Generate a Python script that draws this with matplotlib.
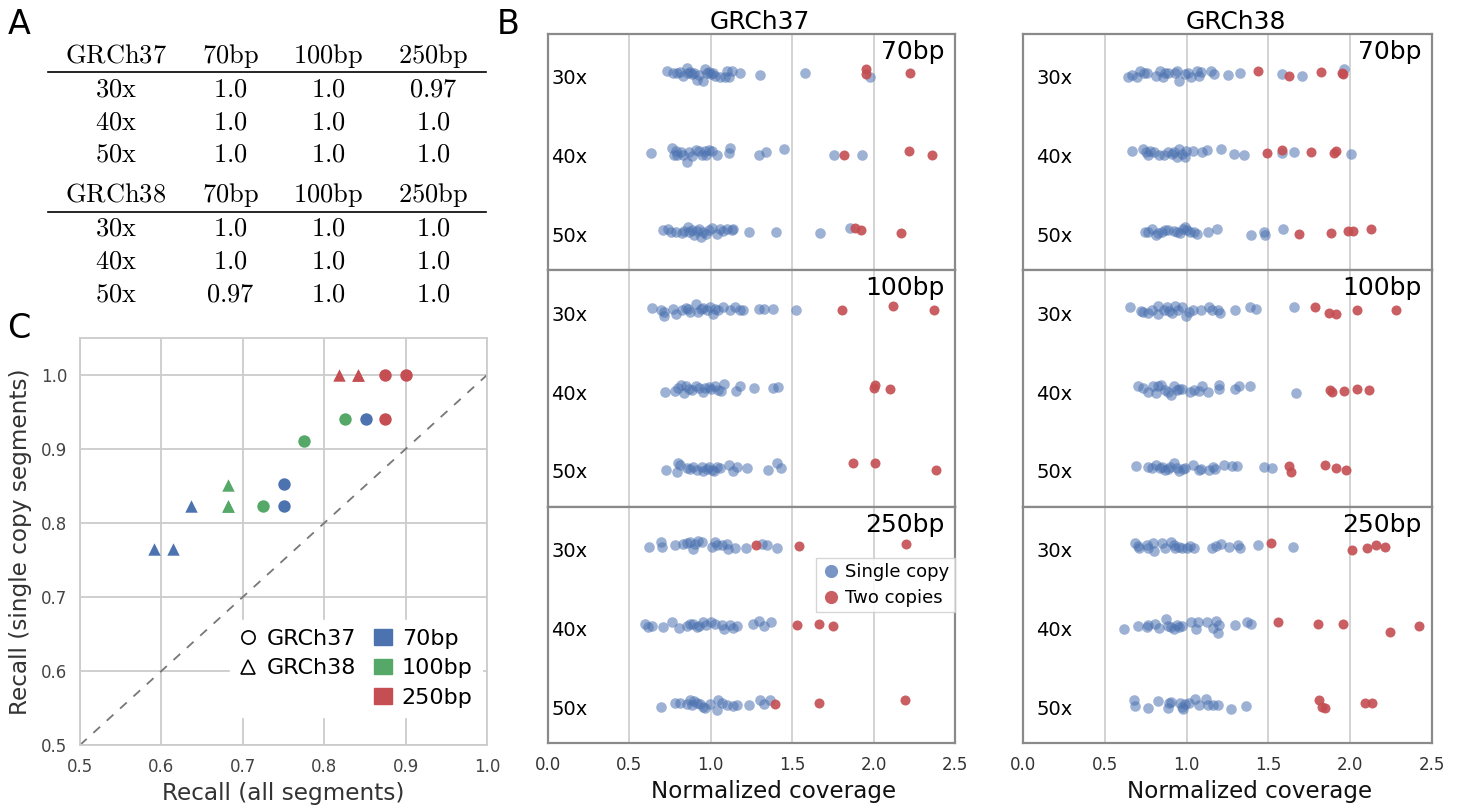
import matplotlib
matplotlib.use("Agg")
import matplotlib.pyplot as plt
from matplotlib.lines import Line2D
from matplotlib.patches import Patch

plt.rcParams["font.family"] = ["DejaVu Sans"]
plt.rcParams["mathtext.fontset"] = "cm"

BLUE = "#4C72B0"
GREEN = "#55A868"
RED = "#C44E52"

# ---------------- panel A: recall table ----------------
table_cols = ["70bp", "100bp", "250bp"]
table_rows = ["30x", "40x", "50x"]
recall_grch37 = [[1.0, 1.0, 0.97], [1.0, 1.0, 1.0], [1.0, 1.0, 1.0]]
recall_grch38 = [[1.0, 1.0, 1.0], [1.0, 1.0, 1.0], [0.97, 1.0, 1.0]]

# ---------------- panel C: recall scatter ----------------
read_lengths = ["70bp", "100bp", "250bp"]
# one list per read length (70 / 100 / 250bp), entries for 30x, 40x, 50x
recall_all_37 = [[0.851, 0.750, 0.750], [0.825, 0.775, 0.725], [0.875, 0.900, 0.875]]
recall_single_37 = [[0.941, 0.853, 0.823], [0.941, 0.911, 0.823], [1.0, 1.0, 0.941]]
recall_all_38 = [[0.636, 0.591, 0.614], [0.682, 0.682, 0.682], [0.818, 0.841, 0.841]]
recall_single_38 = [[0.823, 0.765, 0.765], [0.852, 0.823, 0.823], [1.0, 1.0, 1.0]]

# ---------------- panel B: normalized coverage strips ----------------
coverages = ["30x", "40x", "50x"]
# (normalized coverage, vertical jitter) per segment, rows 30x / 40x / 50x

b37_70_single = [
    [(0.730, -0.03), (0.766, 0.0), (0.791, -0.01), (0.811, -0.02), (0.828, 0.03), (0.852, -0.07),
     (0.863, 0.0), (0.873, -0.02), (0.883, 0.01), (0.898, 0.0), (0.914, 0.09), (0.930, 0.02),
     (0.955, 0.10), (0.965, -0.05), (0.975, 0.0), (0.986, -0.02), (1.0, 0.01), (1.016, -0.01),
     (1.027, 0.03), (1.057, 0.04), (1.088, 0.04), (1.098, -0.03), (1.109, 0.04), (1.129, -0.03),
     (1.180, 0.0), (1.303, 0.02), (1.580, 0.0), (1.975, 0.04)],
    [(0.633, 0.01), (0.760, -0.05), (0.775, 0.03), (0.785, -0.02), (0.795, 0.03), (0.816, 0.0),
     (0.832, 0.03), (0.852, 0.12), (0.867, 0.0), (0.887, 0.05), (0.908, -0.03), (0.928, -0.01),
     (0.949, 0.03), (0.963, -0.02), (0.973, 0.04), (0.990, -0.03), (1.010, -0.01), (1.037, 0.04),
     (1.109, 0.01), (1.119, -0.05), (1.299, 0.03), (1.340, 0.0), (1.451, -0.04), (1.758, 0.03),
     (1.928, 0.04)],
    [(0.705, -0.01), (0.740, -0.03), (0.754, 0.02), (0.787, 0.01), (0.822, 0.03), (0.836, 0.0),
     (0.857, -0.05), (0.869, 0.02), (0.883, -0.01), (0.898, 0.05), (0.914, 0.0), (0.930, -0.02),
     (0.939, 0.08), (0.955, 0.02), (0.969, 0.04), (0.986, -0.01), (1.006, -0.04), (1.037, 0.04),
     (1.057, -0.03), (1.074, 0.0), (1.098, -0.02), (1.129, -0.01), (1.135, -0.02), (1.232, 0.02),
     (1.402, 0.01), (1.672, 0.03), (1.857, -0.04)],
]
b37_70_two = [
    [(1.955, -0.05), (1.955, 0.01), (2.225, 0.0)],
    [(1.820, 0.04), (2.219, -0.01), (2.361, 0.03)],
    [(1.887, -0.04), (1.922, -0.01), (2.168, 0.03)],
]

b37_100_single = [
    [(0.637, -0.02), (0.693, 0.01), (0.713, 0.03), (0.715, 0.08), (0.770, -0.01), (0.785, 0.05),
     (0.822, 0.0), (0.848, -0.02), (0.863, -0.01), (0.873, 0.03), (0.910, -0.07), (0.924, 0.03),
     (0.939, -0.01), (0.955, -0.02), (0.975, 0.01), (0.996, -0.03), (1.016, 0.06), (1.027, -0.01),
     (1.047, 0.01), (1.078, -0.03), (1.115, 0.01), (1.150, -0.04), (1.180, 0.0), (1.197, 0.01),
     (1.293, -0.01), (1.324, -0.01), (1.385, -0.01), (1.525, 0.01)],
    [(0.719, 0.04), (0.783, 0.03), (0.797, -0.01), (0.818, -0.05), (0.834, 0.06), (0.848, -0.03),
     (0.869, 0.0), (0.885, 0.02), (0.910, -0.03), (0.930, -0.01), (0.951, 0.05), (0.967, -0.01),
     (0.988, -0.02), (1.002, 0.01), (1.023, -0.03), (1.043, 0.02), (1.064, 0.03), (1.084, -0.06),
     (1.156, 0.03), (1.180, -0.03), (1.268, -0.01), (1.381, -0.01), (1.412, -0.02)],
    [(0.723, 0.03), (0.795, 0.06), (0.801, -0.05), (0.811, -0.03), (0.852, 0.01), (0.873, 0.02),
     (0.889, 0.0), (0.914, 0.03), (0.945, -0.01), (0.955, 0.05), (0.975, 0.02), (0.992, 0.0),
     (1.006, 0.03), (1.020, 0.05), (1.037, -0.01), (1.057, 0.01), (1.109, -0.03), (1.139, 0.05),
     (1.160, 0.0), (1.225, 0.01), (1.350, 0.03), (1.406, -0.05), (1.430, 0.01)],
]
b37_100_two = [
    [(1.805, 0.01), (2.119, -0.05), (2.373, 0.01)],
    [(2.0, -0.01), (2.010, -0.04), (2.098, 0.0)],
    [(1.871, -0.05), (2.010, -0.05), (2.381, 0.03)],
]

b37_250_single = [
    [(0.623, 0.01), (0.693, -0.05), (0.699, 0.01), (0.781, -0.02), (0.828, -0.03), (0.852, -0.04),
     (0.873, -0.05), (0.889, 0.04), (0.902, -0.03), (0.922, -0.07), (0.943, -0.05), (1.006, 0.01),
     (1.027, -0.05), (1.037, -0.02), (1.068, -0.01), (1.098, -0.03), (1.105, 0.04), (1.150, 0.03),
     (1.217, 0.03), (1.313, -0.03), (1.344, -0.02), (1.406, 0.03)],
    [(0.596, -0.01), (0.617, 0.03), (0.637, 0.01), (0.705, 0.03), (0.764, -0.03), (0.807, 0.04),
     (0.852, 0.01), (0.873, -0.01), (0.893, -0.01), (0.914, 0.03), (0.930, 0.01), (0.951, -0.04),
     (0.971, 0.0), (1.0, -0.04), (1.027, -0.01), (1.068, 0.0), (1.082, 0.05), (1.115, 0.0),
     (1.139, 0.04), (1.164, 0.01), (1.262, -0.01), (1.293, -0.05), (1.328, 0.02), (1.369, -0.04)],
    [(0.695, 0.04), (0.781, -0.01), (0.811, -0.01), (0.852, 0.0), (0.873, -0.04), (0.883, 0.02),
     (0.898, -0.03), (0.914, -0.01), (0.934, 0.0), (0.955, 0.04), (0.965, 0.06), (0.996, 0.0),
     (1.037, 0.08), (1.047, -0.04), (1.068, -0.01), (1.098, 0.02), (1.135, 0.03), (1.160, 0.02),
     (1.232, 0.02), (1.303, -0.04), (1.328, 0.01), (1.365, -0.04)],
]
b37_250_two = [
    [(1.279, -0.01), (1.541, 0.0), (2.199, -0.03)],
    [(1.529, 0.0), (1.662, -0.01), (1.750, 0.02)],
    [(1.395, 0.01), (1.662, -0.01), (2.193, -0.04)],
]

b38_70_single = [
    [(0.643, 0.05), (0.668, 0.02), (0.695, 0.05), (0.715, -0.03), (0.742, 0.0), (0.756, 0.0),
     (0.814, 0.03), (0.838, -0.03), (0.855, 0.04), (0.869, 0.0), (0.885, 0.0), (0.930, 0.0),
     (0.941, -0.03), (0.955, 0.10), (0.988, 0.01), (1.008, 0.0), (1.029, 0.04), (1.064, -0.03),
     (1.074, 0.03), (1.090, -0.02), (1.152, -0.03), (1.166, 0.01), (1.254, 0.02), (1.326, -0.01),
     (1.582, 0.01), (1.707, 0.03), (1.961, -0.06)],
    [(0.668, -0.02), (0.732, -0.04), (0.750, 0.0), (0.766, 0.04), (0.777, -0.01), (0.803, 0.0),
     (0.832, 0.03), (0.863, 0.04), (0.889, 0.0), (0.910, 0.02), (0.926, 0.0), (0.941, 0.06),
     (0.951, -0.04), (0.971, 0.02), (0.988, 0.06), (0.996, -0.01), (1.037, -0.01), (1.094, 0.0),
     (1.125, -0.03), (1.211, -0.04), (1.291, 0.02), (1.352, 0.04), (1.586, 0.01), (1.654, 0.0),
     (2.004, 0.02)],
    [(0.746, 0.01), (0.766, 0.01), (0.791, -0.02), (0.811, 0.05), (0.828, 0.03), (0.848, 0.01),
     (0.869, -0.01), (0.885, -0.01), (0.926, 0.0), (0.941, 0.01), (0.961, 0.03), (0.975, -0.03),
     (0.988, -0.05), (1.002, -0.01), (1.023, 0.01), (1.043, 0.01), (1.064, 0.04), (1.129, 0.01),
     (1.186, -0.02), (1.391, 0.05), (1.473, 0.02), (1.477, 0.05), (1.590, -0.03)],
]
b38_70_two = [
    [(1.436, -0.03), (1.627, 0.03), (1.824, -0.02), (1.951, -0.01), (1.955, 0.01)],
    [(1.490, 0.01), (1.582, -0.03), (1.762, 0.0), (1.904, 0.01), (1.914, -0.01)],
    [(1.689, 0.04), (1.883, 0.03), (1.986, 0.0), (2.016, 0.0), (2.127, -0.02)],
]

b38_100_single = [
    [(0.654, -0.03), (0.721, 0.02), (0.736, 0.03), (0.762, 0.04), (0.791, 0.0), (0.824, -0.05),
     (0.828, 0.05), (0.859, 0.0), (0.879, -0.03), (0.893, 0.02), (0.910, 0.04), (0.930, -0.05),
     (0.947, 0.0), (0.971, -0.03), (0.996, 0.08), (1.012, 0.03), (1.037, 0.01), (1.090, 0.01),
     (1.139, -0.03), (1.156, 0.0), (1.193, 0.0), (1.207, 0.04), (1.295, 0.0), (1.387, -0.04),
     (1.426, -0.01), (1.658, -0.03)],
    [(0.701, -0.03), (0.736, -0.01), (0.762, 0.05), (0.797, -0.03), (0.811, 0.06), (0.828, -0.03),
     (0.844, -0.05), (0.869, 0.02), (0.889, 0.04), (0.906, 0.08), (0.920, -0.03), (0.941, 0.02),
     (0.955, 0.0), (0.971, 0.01), (1.023, 0.04), (1.043, 0.02), (1.074, 0.03), (1.094, -0.03),
     (1.131, 0.04), (1.197, 0.0), (1.201, -0.05), (1.293, 0.0), (1.320, -0.03), (1.385, -0.03),
     (1.668, 0.06)],
    [(0.691, -0.02), (0.766, 0.0), (0.791, 0.01), (0.811, -0.03), (0.838, 0.01), (0.852, -0.01),
     (0.869, 0.04), (0.885, 0.02), (0.900, -0.01), (0.924, -0.06), (0.941, 0.01), (0.955, 0.05),
     (0.975, 0.02), (0.992, 0.01), (1.037, -0.03), (1.078, 0.04), (1.088, 0.02), (1.135, 0.04),
     (1.160, 0.0), (1.172, 0.02), (1.227, -0.03), (1.275, -0.02), (1.309, -0.02), (1.473, -0.01),
     (1.525, 0.01)],
]
b38_100_two = [
    [(1.785, -0.04), (1.873, 0.04), (1.914, 0.06), (2.041, 0.0), (2.279, 0.0)],
    [(1.877, 0.02), (1.889, 0.04), (1.965, 0.03), (2.043, 0.01), (2.113, 0.02)],
    [(1.627, -0.02), (1.641, 0.06), (1.848, -0.03), (1.914, 0.01), (1.975, 0.03)],
]

b38_250_single = [
    [(0.684, -0.04), (0.701, 0.0), (0.711, 0.03), (0.756, -0.02), (0.766, 0.02), (0.797, -0.04),
     (0.803, 0.06), (0.848, -0.04), (0.869, 0.02), (0.906, -0.05), (0.920, -0.02), (0.930, 0.03),
     (0.951, 0.01), (0.971, 0.03), (1.002, 0.02), (1.023, 0.0), (1.043, 0.02), (1.156, 0.02),
     (1.180, 0.0), (1.213, -0.03), (1.262, 0.01), (1.316, -0.01), (1.324, 0.03), (1.439, -0.02),
     (1.650, 0.01)],
    [(0.619, 0.05), (0.701, 0.02), (0.756, 0.03), (0.766, 0.0), (0.807, -0.01), (0.832, 0.04),
     (0.873, -0.08), (0.885, 0.01), (0.906, 0.03), (0.926, 0.05), (0.941, 0.0), (0.955, 0.03),
     (0.971, 0.01), (1.029, -0.03), (1.057, 0.05), (1.070, -0.03), (1.125, -0.04), (1.160, 0.04),
     (1.180, -0.05), (1.191, 0.10), (1.197, 0.0), (1.295, 0.0), (1.371, -0.03), (1.391, -0.01)],
    [(0.680, -0.04), (0.684, 0.03), (0.762, 0.05), (0.828, -0.03), (0.885, 0.06), (0.895, -0.01),
     (0.906, -0.02), (0.961, -0.01), (0.971, 0.04), (0.981, 0.07), (0.992, 0.0), (1.012, -0.01),
     (1.049, -0.06), (1.074, 0.02), (1.119, -0.06), (1.131, 0.02), (1.160, 0.02), (1.193, 0.02),
     (1.273, 0.07), (1.365, 0.03)],
]
b38_250_two = [
    [(1.518, -0.04), (2.012, 0.05), (2.100, 0.03), (2.160, -0.01), (2.211, 0.01)],
    [(1.561, -0.03), (1.801, -0.01), (1.955, -0.01), (2.246, 0.09), (2.422, 0.02)],
    [(1.807, -0.05), (1.828, 0.04), (1.848, 0.06), (2.088, -0.01), (2.133, -0.01)],
]

# ---------------- figure ----------------
W, H = 1460, 807
fig = plt.figure(figsize=(W / 100, H / 100), dpi=100)


def add_px_axes(left, top, right, bottom):
    return fig.add_axes([left / W, 1 - bottom / H, (right - left) / W, (bottom - top) / H])


# panel letters
fig.text(8 / W, 1 - 24 / H, "A", fontsize=24, va="center", ha="left")
fig.text(497 / W, 1 - 24 / H, "B", fontsize=24, va="center", ha="left")
fig.text(7 / W, 1 - 329 / H, "C", fontsize=24, va="center", ha="left")

# ---- A: table
axa = add_px_axes(0, 0, 500, 310)
axa.set_xlim(0, 500)
axa.set_ylim(310, 0)
axa.axis("off")
col_x = [116, 230, 328, 433]
blocks = [("GRCh37", recall_grch37, 62.7, 72, [96.7, 129.3, 162]),
          ("GRCh38", recall_grch38, 201.7, 212, [236, 268.5, 301.5])]
for name, vals, head_y, line_y, row_y in blocks:
    heads = [name] + table_cols
    for cx, h in zip(col_x, heads):
        axa.text(cx, head_y, r"$\mathrm{%s}$" % h, fontsize=19, ha="center", va="baseline")
    axa.plot([48, 486], [line_y, line_y], color="black", lw=1.2)
    for r, ry in enumerate(row_y):
        axa.text(col_x[0], ry, r"$\mathrm{%s}$" % table_rows[r], fontsize=19, ha="center", va="baseline")
        for c in range(3):
            axa.text(col_x[c + 1], ry, r"$\mathrm{%s}$" % str(vals[r][c]), fontsize=19,
                     ha="center", va="baseline")

# ---- B: strip plots
row_edges = [34, 270.3, 506.7, 743]
columns = [
    ("GRCh37", 548, 955, 0.008, [(b37_70_single, b37_70_two), (b37_100_single, b37_100_two),
                                (b37_250_single, b37_250_two)]),
    ("GRCh38", 1023, 1432, 0.032, [(b38_70_single, b38_70_two), (b38_100_single, b38_100_two),
                                  (b38_250_single, b38_250_two)]),
]
for ci, (title, left, right, lab_x, panels) in enumerate(columns):
    for k, (single, two) in enumerate(panels):
        ax = add_px_axes(left, row_edges[k], right, row_edges[k + 1])
        for i in range(3):
            ax.scatter([p[0] for p in single[i]], [i + p[1] for p in single[i]],
                       s=58, color=BLUE, alpha=0.55, lw=0, zorder=3)
            ax.scatter([p[0] for p in two[i]], [i + p[1] for p in two[i]],
                       s=52, color=RED, alpha=0.9, lw=0, zorder=4)
            ax.text(lab_x, i + 0.07, coverages[i], transform=ax.get_yaxis_transform(),
                    fontsize=14, ha="left", va="center")
        ax.set_xlim(0, 2.5)
        ax.set_ylim(2.5, -0.5)
        ax.set_yticks([])
        ax.set_xticks([0, 0.5, 1.0, 1.5, 2.0, 2.5])
        ax.grid(axis="x", color="#cccccc", lw=1.2)
        ax.set_axisbelow(True)
        ax.tick_params(length=0, labelsize=12, labelcolor="#333333", pad=9)
        for sp in ax.spines.values():
            sp.set_color("#8a8a8a")
            sp.set_linewidth(1.6)
        ax.text(0.975, 0.975, read_lengths[k], transform=ax.transAxes,
                ha="right", va="top", fontsize=18)
        if k == 0:
            ax.set_title(title, fontsize=18, x=0.52, pad=3)
        if k < 2:
            ax.tick_params(labelbottom=False)
        else:
            ax.set_xlabel("Normalized coverage", fontsize=16.6, color="#111111")
            ax.xaxis.set_label_coords(0.555, -0.155)
            if ci == 0:
                handles = [Line2D([], [], marker="o", ls="none", color=BLUE, alpha=0.75,
                                  markersize=9.5, mec="none"),
                           Line2D([], [], marker="o", ls="none", color=RED, alpha=0.9,
                                  markersize=9.5, mec="none")]
                leg = ax.legend(handles, ["Single copy", "Two copies"], loc="upper right",
                                bbox_to_anchor=(1.0, 0.785), borderaxespad=0, fontsize=13,
                                frameon=True, fancybox=False, edgecolor="#cccccc",
                                handlelength=1.0, handletextpad=0.3, borderpad=0.3,
                                labelspacing=0.45)
                leg.get_frame().set_linewidth(1.0)

# ---- C: recall scatter
axc = add_px_axes(80, 338, 487, 745)
colors = [BLUE, GREEN, RED]
axc.plot([0.5, 1.0], [0.5, 1.0], ls=(0, (5, 5)), color="#777777", lw=1.3, zorder=2)
for j in range(3):
    axc.scatter(recall_all_37[j], recall_single_37[j], marker="o", s=80, color=colors[j],
                lw=0, zorder=3)
    axc.scatter(recall_all_38[j], recall_single_38[j], marker="^", s=80, color=colors[j],
                lw=0, zorder=3)
axc.set_xlim(0.5, 1.0)
axc.set_ylim(0.5, 1.05)
axc.set_xticks([0.5, 0.6, 0.7, 0.8, 0.9, 1.0])
axc.set_yticks([0.5, 0.6, 0.7, 0.8, 0.9, 1.0])
axc.grid(color="#cccccc", lw=1.3)
axc.set_axisbelow(True)
axc.tick_params(length=0, labelsize=12, labelcolor="#444444", pad=9)
for sp in axc.spines.values():
    sp.set_color("#cccccc")
    sp.set_linewidth(1.3)
axc.set_xlabel("Recall (all segments)", fontsize=16.7, color="#333333")
axc.xaxis.set_label_coords(0.5, -0.09)
axc.set_ylabel("Recall (single copy segments)", fontsize=16.7, color="#333333")
axc.yaxis.set_label_coords(-0.118, 0.5)

c_handles = [Line2D([], [], marker="o", ls="none", mfc="none", mec="black", markersize=9.5, mew=1.2),
             Line2D([], [], marker="^", ls="none", mfc="none", mec="black", markersize=9.5, mew=1.2),
             Line2D([], [], ls="none"),
             Patch(color=BLUE), Patch(color=GREEN), Patch(color=RED)]
c_labels = ["GRCh37", "GRCh38", ""] + read_lengths
legc = axc.legend(c_handles, c_labels, ncol=2, loc="upper left", bbox_to_anchor=(0.369, 0.307),
                  borderaxespad=0, fontsize=16, frameon=True, facecolor="white", edgecolor="white",
                  framealpha=1, fancybox=False, handlelength=0.8, handletextpad=0.45,
                  columnspacing=0.8, labelspacing=0.43, borderpad=0.4)

fig.savefig("out.png", dpi=100)
